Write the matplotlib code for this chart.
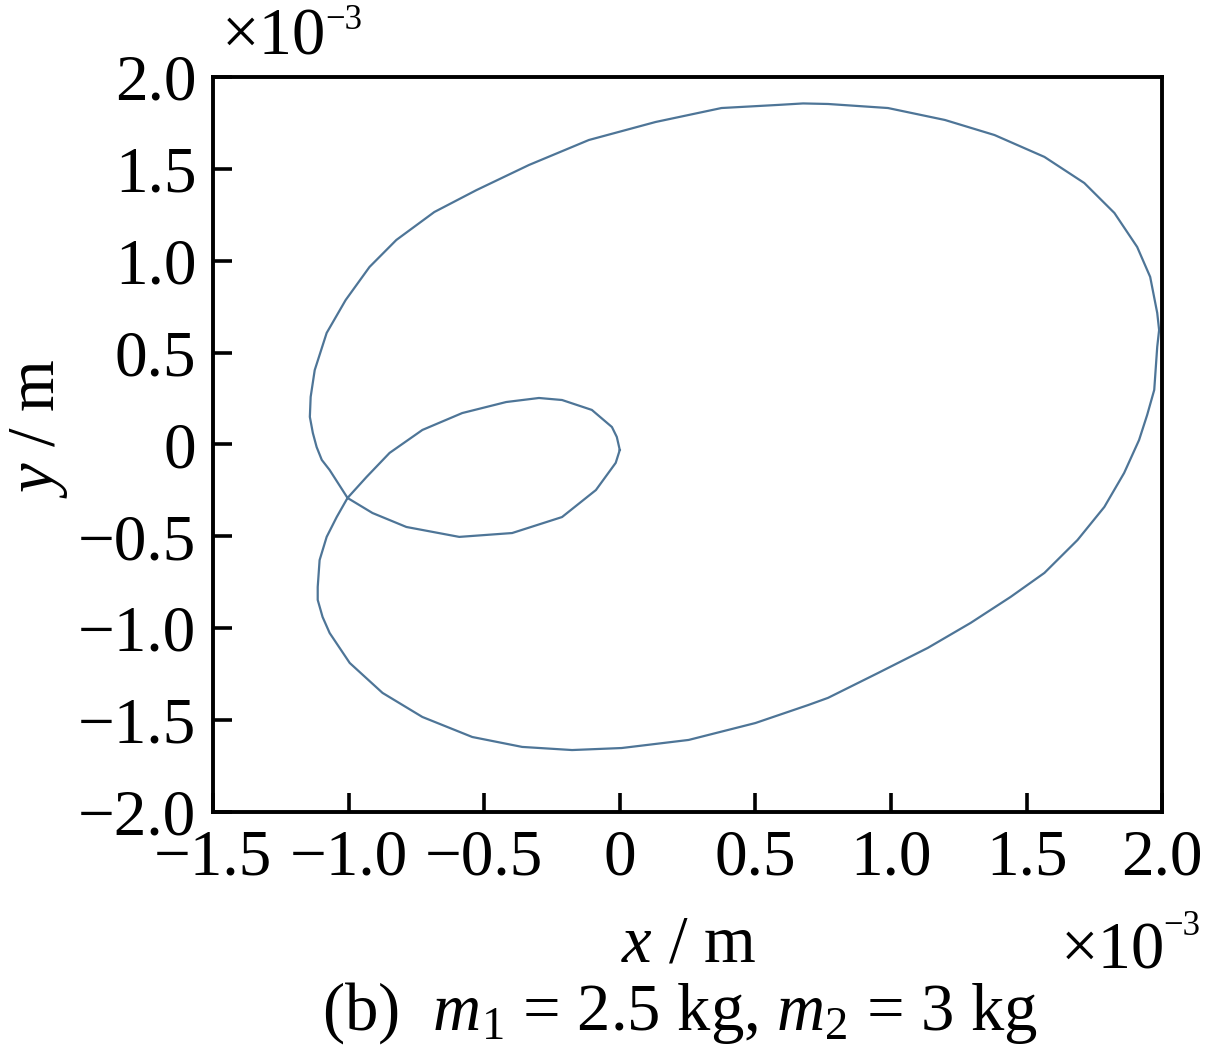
import numpy as np
import matplotlib.pyplot as plt

plt.rcParams['font.family'] = ['Liberation Serif', 'DejaVu Serif']
plt.rcParams['mathtext.fontset'] = 'custom'
plt.rcParams['mathtext.rm'] = 'Liberation Serif'
plt.rcParams['mathtext.it'] = 'Liberation Serif:italic'

# trajectory (units of 1e-3 m)
x_pts = [0.0, -0.011, -0.029, -0.103, -0.213, -0.298, -0.419, -0.581, -0.728, -0.849,
         -0.934, -1.004, -1.044, -1.081, -1.107, -1.114, -1.114, -1.096, -1.070, -0.996,
         -0.875, -0.728, -0.544, -0.360, -0.176, 0.007, 0.254, 0.500, 0.695, 0.768,
         0.952, 1.136, 1.294, 1.441, 1.566, 1.688, 1.787, 1.860, 1.915, 1.945,
         1.971, 1.982, 1.989, 1.982, 1.956, 1.908, 1.824, 1.713, 1.566, 1.382,
         1.199, 0.989, 0.768, 0.676, 0.585, 0.375, 0.132, -0.114, -0.335, -0.529,
         -0.684, -0.824, -0.923, -1.011, -1.081, -1.125, -1.140, -1.143, -1.132, -1.118,
         -1.099, -1.070, -1.004, -0.912, -0.787, -0.592, -0.397, -0.213, -0.088, -0.015,
         0.0]
y_pts = [-0.03, 0.041, 0.095, 0.188, 0.242, 0.253, 0.231, 0.171, 0.079, -0.046,
         -0.177, -0.291, -0.395, -0.503, -0.629, -0.776, -0.846, -0.939, -1.026, -1.189,
         -1.352, -1.483, -1.592, -1.646, -1.663, -1.652, -1.608, -1.516, -1.418, -1.379,
         -1.244, -1.107, -0.971, -0.830, -0.699, -0.520, -0.340, -0.155, 0.024, 0.161,
         0.297, 0.531, 0.623, 0.716, 0.912, 1.075, 1.260, 1.423, 1.565, 1.684,
         1.766, 1.831, 1.853, 1.856, 1.848, 1.831, 1.755, 1.657, 1.521, 1.384,
         1.265, 1.113, 0.966, 0.786, 0.607, 0.405, 0.259, 0.150, 0.063, -0.014,
         -0.084, -0.139, -0.291, -0.373, -0.449, -0.503, -0.482, -0.395, -0.248, -0.10,
         -0.03]

xticks = [-1.5, -1.0, -0.5, 0, 0.5, 1.0, 1.5, 2.0]
xtick_labels = ['\u22121.5', '\u22121.0', '\u22120.5', '0', '0.5', '1.0', '1.5', '2.0']
yticks = [-2.0, -1.5, -1.0, -0.5, 0, 0.5, 1.0, 1.5, 2.0]
ytick_labels = ['\u22122.0', '\u22121.5', '\u22121.0', '\u22120.5', '0', '0.5', '1.0', '1.5', '2.0']

fig = plt.figure(figsize=(12.05, 10.53), dpi=100)
ax = fig.add_axes([0.1768, 0.2289, 0.7876, 0.698])
ax.plot(x_pts, y_pts, color='#4e7597', lw=1.6, solid_joinstyle='round')

ax.set_xlim(-1.5, 2.0)
ax.set_ylim(-2.0, 2.0)
ax.set_xticks(xticks)
ax.set_xticklabels(xtick_labels)
ax.set_yticks(yticks)
ax.set_yticklabels(ytick_labels)
ax.tick_params(direction='in', length=14, width=2.6, labelsize=47)
ax.tick_params(axis='x', pad=12)
ax.tick_params(axis='y', pad=12)
for s in ax.spines.values():
    s.set_linewidth(2.8)

fs = 48
fig.text(0.571, 0.1026, '$x$ / m', fontsize=fs, ha='center', va='center')
fig.text(0.032, 0.593, '$y$ / m', fontsize=fs, ha='center', va='center', rotation=90)

# x10^-3 multipliers
fig.text(0.880, 0.0807, '\u00d710', fontsize=fs, ha='left', va='baseline')
fig.text(0.965, 0.112, '\u22123', fontsize=25, ha='left', va='baseline')
fig.text(0.184, 0.948, '\u00d710', fontsize=fs, ha='left', va='baseline')
fig.text(0.270, 0.972, '\u22123', fontsize=25, ha='left', va='baseline')

fig.text(0.564, 0.022, '(b)  $m_1$ = 2.5 kg, $m_2$ = 3 kg', fontsize=fs, ha='center', va='baseline')

fig.savefig('out.png', dpi=100)
